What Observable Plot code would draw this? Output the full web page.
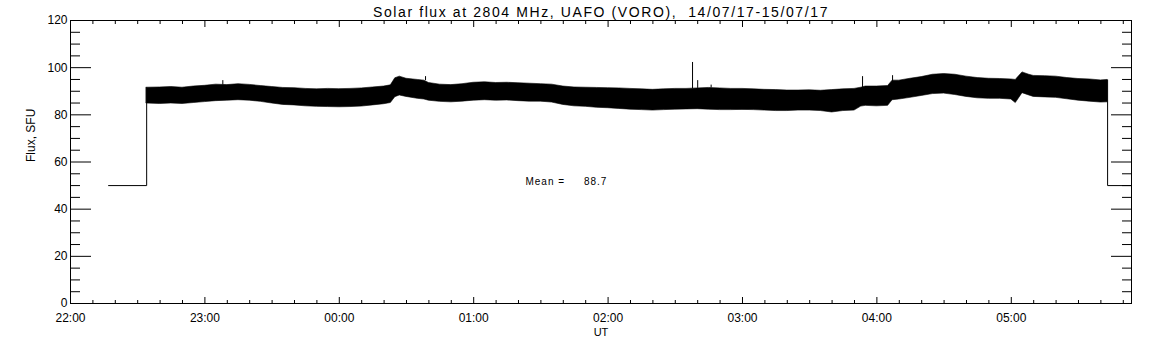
<!DOCTYPE html>
<html>
<head>
<meta charset="utf-8">
<script src="https://cdn.jsdelivr.net/npm/d3@7"></script>
<script src="https://cdn.jsdelivr.net/npm/@observablehq/plot@0.6"></script>
<style>
  html, body { margin: 0; padding: 0; background: #fff; }
  svg { display: block; }
</style>
</head>
<body>
<div id="chart"></div>
<script>
// ---------- texts ----------
const titleText = "Solar flux at 2804 MHz, UAFO (VORO),\u00a0\u00a014/07/17-15/07/17";
const yLabel = "Flux, SFU";
const xLabel = "UT";
const meanText = "Mean =\u00a0\u00a0\u00a0\u00a0\u00a088.7";
const meanLabel = { time: "01:23:06", flux: 51.7 };

// ---------- axis ----------
const xDomain = ["22:00", "05:53:40"];
const yDomain = [0, 120];
const yMajorTicks = [0, 20, 40, 60, 80, 100, 120];

// ---------- band (envelope of the 1-s record) ----------
const bandTimes = ["22:34","22:40","22:45","22:50","22:55","23:00","23:05","23:10","23:15","23:20","23:25","23:30","23:35","23:40","23:45","23:50","23:55",
  "00:00","00:05","00:10","00:15","00:20","00:23","00:25","00:27","00:30","00:35","00:38","00:40","00:45","00:50","00:55",
  "01:00","01:05","01:10","01:15","01:20","01:25","01:30","01:35","01:40","01:45","01:50","01:55",
  "02:00","02:05","02:10","02:15","02:20","02:25","02:30","02:35","02:40","02:45","02:50","02:55",
  "03:00","03:05","03:10","03:15","03:20","03:25","03:30","03:35","03:40","03:45","03:50","03:53","03:55",
  "04:00","04:05","04:07","04:10","04:15","04:20","04:25","04:30","04:35","04:40","04:45","04:50","04:55",
  "05:00","05:02","05:05","05:08","05:10","05:15","05:20","05:25","05:30","05:35","05:40","05:43"];
const bandHigh = [91.5,91.6,91.8,91.5,92.0,92.3,92.8,92.6,93.0,92.7,92.2,91.8,91.4,91.3,91.0,90.8,91.0,
  90.9,91.0,91.2,91.6,92.0,92.5,95.5,96.2,95.3,94.8,94.5,93.5,92.8,92.6,93.0,
  93.6,93.8,93.5,93.6,93.4,93.2,93.0,92.8,92.0,91.6,91.5,91.4,
  91.3,91.2,91.0,90.8,90.6,90.8,91.0,91.0,91.2,91.4,91.2,91.0,
  91.0,90.8,90.6,90.5,90.3,90.3,90.4,90.2,90.5,90.8,91.0,91.5,92.0,
  92.0,92.2,94.5,94.5,95.3,96.0,97.0,97.3,97.0,96.2,95.6,95.3,95.2,
  95.0,94.8,98.0,97.0,96.5,96.4,96.2,95.6,95.2,95.0,94.6,94.8];
const bandLow = [84.8,84.6,84.8,84.6,85.0,85.4,85.8,86.0,86.2,86.0,85.5,84.8,84.2,84.0,83.6,83.4,83.3,
  83.2,83.3,83.5,84.0,84.5,85.0,87.5,88.2,87.6,86.8,86.5,86.0,85.5,85.3,85.6,
  86.0,86.2,86.0,86.1,85.8,85.6,85.6,85.2,84.2,83.6,83.4,83.0,
  82.8,82.5,82.2,82.0,81.8,82.0,82.2,82.3,82.4,82.2,82.0,82.0,
  82.1,82.0,81.8,81.6,81.6,81.8,81.8,81.6,81.0,81.6,81.8,83.5,83.8,
  83.6,83.8,86.2,86.5,87.2,88.0,88.8,89.0,88.4,87.6,87.0,86.8,86.8,
  86.5,85.0,89.2,88.2,87.6,87.4,87.2,86.6,86.0,85.6,85.2,85.3];

// ---------- fill level before / after the record ----------
const leadTimes = ["22:17", "22:34", "22:34"];
const leadFlux = [50, 50, 91.5];
const tailTimes = ["05:43", "05:43", "05:53:40"];
const tailFlux = [94.8, 50, 50];

// ---------- isolated spikes ----------
const spikeTimes = ["23:08", "00:38:30", "02:37:42", "02:40", "02:46", "03:53:36", "04:07"];
const spikeBase = [92.6, 94.5, 91.0, 91.2, 91.4, 91.5, 94.0];
const spikePeak = [94.5, 96.2, 102.2, 94.5, 92.6, 96.2, 96.6];

// ---------- helpers ----------
function toDate(s) {
  const [h, m, sec = 0] = s.split(":").map(Number);
  const day = h >= 12 ? 14 : 15;
  return new Date(Date.UTC(2017, 6, day, h, m, sec));
}
const band = bandTimes.map((t, i) => ({ time: toDate(t), hi: bandHigh[i], lo: bandLow[i] }));
const lead = leadTimes.map((t, i) => ({ time: toDate(t), flux: leadFlux[i] }));
const tail = tailTimes.map((t, i) => ({ time: toDate(t), flux: tailFlux[i] }));
const spikes = spikeTimes.map((t, i) => ({ time: toDate(t), base: spikeBase[i], peak: spikePeak[i] }));

const x0 = toDate(xDomain[0]), x1 = toDate(xDomain[1]);
const xMajor = d3.utcHour.range(x0, new Date(+x1 + 1));
const xMinor = d3.utcMinute.every(10).range(x0, new Date(+x1 + 1)).filter(d => d.getUTCMinutes() !== 0);
const yMinor = d3.range(5, 120, 5).filter(v => v % 20 !== 0);

const fmt = d3.utcFormat("%H:%M");

const chart = Plot.plot({
  width: 1152,
  height: 345,
  marginLeft: 70,
  marginRight: 21,
  marginTop: 20,
  marginBottom: 42,
  style: { fontFamily: "Liberation Sans, Arial, sans-serif", fontSize: "12px", color: "black", background: "white" },
  x: { type: "utc", domain: [x0, x1] },
  y: { domain: yDomain },
  marks: [
    // data
    Plot.areaY(band, { x: "time", y1: "lo", y2: "hi", fill: "black", stroke: "black", strokeWidth: 0.6 }),
    Plot.line(lead, { x: "time", y: "flux", stroke: "black", strokeWidth: 1 }),
    Plot.line(tail, { x: "time", y: "flux", stroke: "black", strokeWidth: 1 }),
    Plot.ruleX(spikes, { x: "time", y1: "base", y2: "peak", stroke: "black", strokeWidth: 1 }),
    // frame
    Plot.frame({ stroke: "black" }),
    // y axis left
    Plot.axisY(yMajorTicks, { anchor: "left", tickSize: 0, tickPadding: 3, fontSize: 12, label: null }),
    Plot.axisY(yMajorTicks, { anchor: "left", tickSize: -21, fill: "none", label: null }),
    Plot.axisY(yMinor, { anchor: "left", tickSize: -10, fill: "none", label: null }),
    // y axis right (mirrored ticks)
    Plot.axisY(yMajorTicks, { anchor: "right", tickSize: -21, fill: "none", label: null }),
    Plot.axisY(yMinor, { anchor: "right", tickSize: -10, fill: "none", label: null }),
    // x axis bottom
    Plot.axisX(xMajor, { anchor: "bottom", tickSize: 0, tickPadding: 10, tickFormat: fmt, fontSize: 12, label: null }),
    Plot.axisX(xMajor, { anchor: "bottom", tickSize: -6, fill: "none", label: null }),
    Plot.axisX(xMinor, { anchor: "bottom", tickSize: -3, fill: "none", label: null }),
    // x axis top (mirrored ticks)
    Plot.axisX(xMajor, { anchor: "top", tickSize: -6, fill: "none", label: null }),
    Plot.axisX(xMinor, { anchor: "top", tickSize: -3, fill: "none", label: null }),
    // titles
    Plot.text([titleText], { frameAnchor: "top", dy: -8, text: d => d, fontSize: 14, lineAnchor: "middle", fill: "black" }),
    Plot.text([yLabel], { frameAnchor: "left", dx: -39, rotate: -90, text: d => d, fontSize: 12, lineAnchor: "middle", fill: "black" }),
    Plot.text([xLabel], { frameAnchor: "bottom", dy: 29, text: d => d, fontSize: 11, lineAnchor: "middle", fill: "black" }),
    Plot.text([meanLabel], { x: d => toDate(d.time), y: "flux", text: () => meanText, textAnchor: "start", fontSize: 10, lineAnchor: "middle", fill: "black" })
  ]
});
const svgSel = d3.select(chart);
svgSel.selectAll("text").filter(function () { return this.textContent === titleText; })
  .attr("letter-spacing", "1.6").style("letter-spacing", "1.6px");
svgSel.selectAll("text").filter(function () { return this.textContent === meanText; })
  .attr("letter-spacing", "1").style("letter-spacing", "1px");
document.getElementById("chart").append(chart);
</script>
</body>
</html>
